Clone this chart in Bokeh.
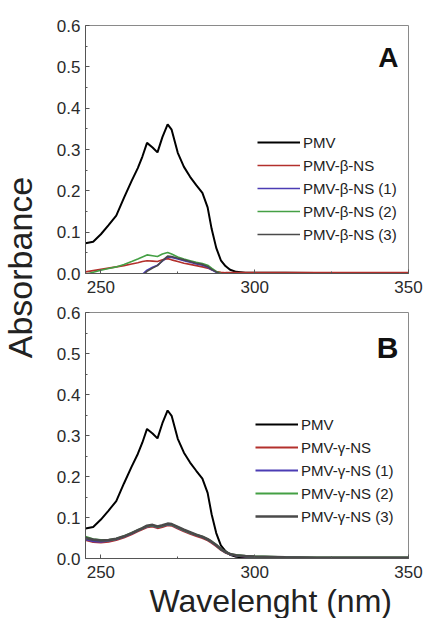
from bokeh.plotting import figure
from bokeh.layouts import row, column
from bokeh.models import (Range1d, FixedTicker, NumeralTickFormatter,
                          Label, Legend, LegendItem, Title)
from bokeh.embed import file_html
from bokeh.resources import INLINE

# ---------------- data ----------------
wavelength = [245, 247.5, 250, 252.5, 255, 257.5, 260, 262, 263.5, 265, 266.8, 268.4,
              270, 271.7, 273, 275, 277, 279, 281, 283, 284.7, 286, 287.5, 289, 290.5,
              292, 294, 297, 300, 310, 320, 330, 340, 350]

pmv = [0.073, 0.077, 0.095, 0.117, 0.140, 0.183, 0.224, 0.255, 0.283, 0.316, 0.305, 0.293,
       0.330, 0.361, 0.348, 0.292, 0.258, 0.234, 0.214, 0.195, 0.160, 0.108, 0.062, 0.032,
       0.018, 0.009, 0.004, 0.002, 0.002, 0.002, 0.001, 0.001, 0.001, 0.001]

# Panel A (beta nanosponges)
beta_ns = [0.004, 0.007, 0.010, 0.013, 0.016, 0.019, 0.023, 0.026, 0.029, 0.031, 0.030, 0.029,
           0.033, 0.036, 0.033, 0.029, 0.025, 0.022, 0.019, 0.016, 0.013, 0.009, 0.005, 0.003,
           0.002, 0.002, 0.002, 0.002, 0.002, 0.002, 0.002, 0.002, 0.002, 0.002]
beta_ns_1 = [-0.060, -0.055, -0.050, -0.045, -0.040, -0.035, -0.025, -0.012, -0.002, 0.008, 0.015, 0.020,
             0.030, 0.040, 0.039, 0.035, 0.031, 0.027, 0.023, 0.020, 0.015, 0.009, 0.003, -0.003,
             -0.006, -0.006, -0.006, -0.006, -0.006, -0.006, -0.006, -0.006, -0.006, -0.006]
beta_ns_2 = [-0.002, 0.003, 0.008, 0.012, 0.016, 0.022, 0.029, 0.035, 0.040, 0.045, 0.043, 0.041,
             0.047, 0.051, 0.047, 0.040, 0.035, 0.031, 0.027, 0.024, 0.020, 0.013, 0.005, 0.000,
             -0.004, -0.006, -0.006, -0.006, -0.006, -0.006, -0.006, -0.006, -0.006, -0.006]
beta_ns_3 = [-0.060, -0.055, -0.050, -0.045, -0.040, -0.035, -0.025, -0.014, -0.005, 0.005, 0.013, 0.019,
             0.031, 0.042, 0.041, 0.037, 0.033, 0.029, 0.025, 0.022, 0.017, 0.010, 0.004, -0.002,
             -0.006, -0.006, -0.006, -0.006, -0.006, -0.006, -0.006, -0.006, -0.006, -0.006]

# Panel B (gamma nanosponges)
gamma_ns = [0.045, 0.040, 0.039, 0.041, 0.045, 0.051, 0.059, 0.066, 0.071, 0.076, 0.078, 0.074,
            0.077, 0.081, 0.080, 0.073, 0.066, 0.060, 0.055, 0.050, 0.044, 0.038, 0.030, 0.021,
            0.014, 0.010, 0.007, 0.005, 0.004, 0.003, 0.002, 0.002, 0.002, 0.002]
gamma_ns_1 = [0.047, 0.042, 0.041, 0.043, 0.047, 0.053, 0.061, 0.068, 0.073, 0.078, 0.080, 0.076,
              0.079, 0.083, 0.082, 0.075, 0.068, 0.062, 0.057, 0.052, 0.046, 0.040, 0.032, 0.022,
              0.015, 0.010, 0.007, 0.005, 0.004, 0.003, 0.002, 0.002, 0.002, 0.002]
gamma_ns_2 = [0.053, 0.047, 0.045, 0.045, 0.048, 0.054, 0.062, 0.069, 0.074, 0.079, 0.081, 0.077,
              0.080, 0.084, 0.083, 0.076, 0.069, 0.063, 0.058, 0.053, 0.047, 0.041, 0.033, 0.023,
              0.016, 0.011, 0.008, 0.006, 0.005, 0.003, 0.002, 0.002, 0.002, 0.002]
gamma_ns_3 = [0.050, 0.046, 0.044, 0.045, 0.048, 0.054, 0.062, 0.069, 0.074, 0.080, 0.082, 0.078,
              0.081, 0.085, 0.084, 0.077, 0.070, 0.064, 0.058, 0.053, 0.047, 0.041, 0.033, 0.023,
              0.016, 0.011, 0.008, 0.006, 0.005, 0.003, 0.002, 0.002, 0.002, 0.002]

labels_a = ["PMV", "PMV-\u03b2-NS", "PMV-\u03b2-NS (1)", "PMV-\u03b2-NS (2)", "PMV-\u03b2-NS (3)"]
labels_b = ["PMV", "PMV-\u03b3-NS", "PMV-\u03b3-NS (1)", "PMV-\u03b3-NS (2)", "PMV-\u03b3-NS (3)"]
series_a = [pmv, beta_ns, beta_ns_1, beta_ns_2, beta_ns_3]
series_b = [pmv, gamma_ns, gamma_ns_1, gamma_ns_2, gamma_ns_3]

x_ticks = [250, 300, 350]
x_minor_ticks = [275, 325]
y_ticks = [0.0, 0.1, 0.2, 0.3, 0.4, 0.5, 0.6]
y_minor_ticks = [0.05, 0.15, 0.25, 0.35, 0.45, 0.55]

# ---------------- style ----------------
FONT = "Liberation Sans"
colors = ["#000000", "#b3302c", "#4b3cb4", "#44a044", "#4a4a4a"]
widths_a = [2.0, 1.6, 1.6, 1.6, 1.6]
widths_b = [2.0, 2.0, 2.0, 2.2, 2.6]


def make_panel(series, labels, widths, height, border_top, border_bottom, letter,
               letter_y, letter_size, legend_loc):
    p = figure(width=379, height=height, output_backend="svg", toolbar_location=None,
               x_range=Range1d(245, 350), y_range=Range1d(0, 0.6),
               min_border_left=39, min_border_right=17,
               min_border_top=border_top, min_border_bottom=border_bottom)
    p.background_fill_color = "white"
    p.border_fill_color = "white"
    p.outline_line_color = "#8a8a8a"
    p.outline_line_width = 1
    p.grid.visible = False

    p.xaxis.ticker = FixedTicker(ticks=x_ticks, minor_ticks=x_minor_ticks)
    p.yaxis.ticker = FixedTicker(ticks=y_ticks, minor_ticks=y_minor_ticks)
    p.yaxis.formatter = NumeralTickFormatter(format="0.0")
    for ax in (p.xaxis, p.yaxis):
        ax.axis_line_color = "#555555"
        ax.major_tick_in = 4
        ax.major_tick_out = 0
        ax.minor_tick_in = 2
        ax.minor_tick_out = 0
        ax.major_tick_line_color = "#555555"
        ax.minor_tick_line_color = "#555555"
        ax.major_label_text_font = FONT
        ax.major_label_text_font_size = "17px"
        ax.major_label_text_color = "#2a2a2a"
    p.xaxis.major_label_standoff = 7
    p.yaxis.major_label_standoff = 5

    renderers = []
    for i in range(5):
        r = p.line(wavelength, series[i], line_color=colors[i], line_width=widths[i])
        renderers.append(r)
    items = [LegendItem(label=labels[i], renderers=[renderers[i]]) for i in range(5)]
    leg = Legend(items=items, location=legend_loc, orientation="vertical",
                 glyph_width=43, glyph_height=20, label_height=20, spacing=3,
                 label_standoff=3, padding=0, margin=0,
                 border_line_color=None, background_fill_alpha=0,
                 label_text_font=FONT, label_text_font_size="15px",
                 label_text_color="#222222")
    p.add_layout(leg, "center")

    p.add_layout(Label(x=313, y=letter_y, x_units="screen", y_units="screen",
                       text=letter, text_align="right", text_baseline="alphabetic",
                       text_font=FONT, text_font_style="bold",
                       text_font_size=letter_size, text_color="#111111"))
    return p


pA = make_panel(series_a, labels_a, widths_a, 301, 25, 28, "A", 216, "28px", (172, 29))
pB = make_panel(series_b, labels_b, widths_b, 317, 11, 60, "B", 211, "30px", (170, 32))

pB.add_layout(Title(text="Wavelenght (nm)", align="left", offset=64, standoff=0,
                    text_font=FONT, text_font_size="32px", text_font_style="normal",
                    text_color="#222222"), "below")

# y-axis title spanning both panels
pL = figure(width=46, height=618, output_backend="svg", toolbar_location=None,
            x_range=Range1d(0, 1), y_range=Range1d(0, 1),
            x_axis_type=None, y_axis_type=None, min_border=0)
pL.outline_line_color = None
pL.grid.visible = False
pL.add_layout(Label(x=19, y=351, x_units="screen", y_units="screen",
                    text="Absorbance", angle=90, angle_units="deg",
                    text_align="center", text_baseline="middle",
                    text_font=FONT, text_font_size="34px", text_color="#222222"))

layout = row(pL, column(pA, pB))

open("out.html", "w").write(file_html(layout, INLINE))
